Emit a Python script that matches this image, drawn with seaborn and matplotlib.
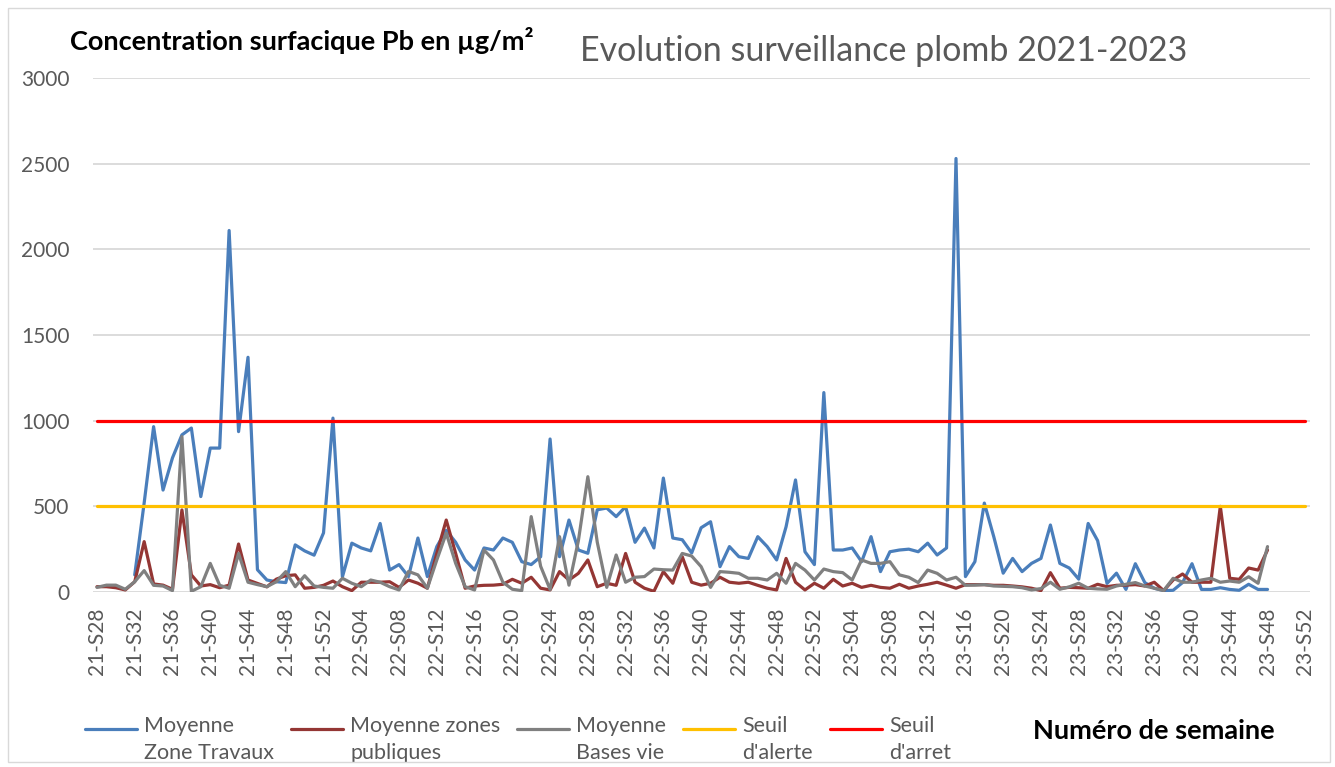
import numpy as np
import pandas as pd
import matplotlib
matplotlib.use("Agg")
import matplotlib.pyplot as plt
from matplotlib.patches import Rectangle
import seaborn as sns

# semaines 2021-S28 .. 2023-S52
weeks = ([f"21-S{w:02d}" for w in range(28, 53)]
         + [f"22-S{w:02d}" for w in range(1, 53)]
         + [f"23-S{w:02d}" for w in range(1, 53)])

# Moyenne Zone Travaux (starts at 21-S32)
zone_travaux = [np.nan, np.nan, np.nan, np.nan,
                100, 520, 965, 595, 783, 917, 957, 557, 840, 840, 2110, 936, 1370, 130, 70, 60,
                55, 275, 240, 215, 345, 1015, 88, 285, 257, 240, 400, 128, 160, 90, 315, 90,
                265, 360, 290, 187, 128, 257, 245, 315, 290, 177, 160, 206, 893, 206, 420, 245,
                226, 480, 490, 440, 498, 290, 373, 257, 665, 315, 305, 228, 375, 410, 148, 265,
                206, 196, 323, 265, 187, 381, 654, 235, 160, 1164, 245, 245, 257, 177, 323, 119,
                235, 245, 250, 235, 285, 216, 257, 2530, 90, 177, 519, 323, 110, 196, 119, 167,
                196, 391, 167, 140, 75, 400, 300, 50, 110, 15, 165, 55, 22, 8, 10, 55,
                165, 15, 15, 25, 15, 10, 45, 15, 15]

zones_publiques = [31, 31, 25, 12, 60, 294, 47, 40, 16, 479, 100, 35, 43, 25, 40, 280,
                   70, 50, 30, 75, 95, 100, 22, 27, 39, 64, 31, 8, 57, 57, 57, 60,
                   27, 70, 51, 22, 225, 420, 225, 22, 35, 39, 40, 45, 74, 51, 86, 22,
                   12, 119, 70, 109, 187, 31, 51, 39, 225, 57, 22, 4, 119, 51, 206, 57,
                   40, 51, 86, 57, 51, 57, 39, 22, 12, 196, 57, 12, 51, 22, 74, 35,
                   51, 27, 39, 27, 22, 45, 22, 35, 45, 57, 40, 22, 43, 43, 43, 39,
                   39, 35, 30, 22, 8, 113, 22, 27, 25, 22, 45, 31, 39, 40, 43, 35,
                   57, 8, 70, 105, 57, 57, 57, 500, 80, 74, 140, 128, 245]

bases_vie = [27, 40, 40, 16, 60, 125, 39, 35, 8, 907, 4, 31, 167, 39, 22, 225,
             57, 43, 31, 60, 119, 31, 95, 35, 27, 22, 80, 51, 31, 70, 57, 31,
             12, 120, 100, 22, 187, 343, 167, 31, 12, 245, 187, 57, 16, 8, 440, 150,
             15, 323, 40, 300, 673, 290, 27, 216, 57, 86, 90, 134, 130, 128, 225, 210,
             148, 27, 119, 115, 109, 80, 80, 70, 109, 51, 167, 128, 70, 134, 119, 113,
             70, 187, 167, 167, 177, 100, 86, 55, 128, 109, 70, 86, 39, 40, 43, 35,
             33, 31, 25, 12, 20, 57, 16, 30, 51, 22, 18, 16, 35, 45, 55, 35,
             22, 8, 80, 57, 57, 70, 80, 57, 64, 57, 89, 51, 265]

seuil_alerte = [500] * len(weeks)
seuil_arret = [1000] * len(weeks)

series = {
    "Moyenne\nZone Travaux": zone_travaux,
    "Moyenne zones\npubliques": zones_publiques,
    "Moyenne\nBases vie": bases_vie,
    "Seuil\nd'alerte": seuil_alerte,
    "Seuil\nd'arret": seuil_arret,
}
colors = ["#4a7ebb", "#943634", "#808080", "#ffc000", "#ff0000"]

rows = []
for name, vals in series.items():
    for i, v in enumerate(vals):
        if not np.isnan(v):
            rows.append((i, v, name))
df = pd.DataFrame(rows, columns=["idx", "val", "serie"])

sns.set_style("white")
plt.rcParams["font.family"] = ["Lato", "DejaVu Sans"]

W, H = 1335, 767
fig = plt.figure(figsize=(W / 100, H / 100), dpi=100)
ax = fig.add_axes([93 / W, 1 - 592 / H, (1310 - 93) / W, (592 - 78) / H])

sns.lineplot(data=df, x="idx", y="val", hue="serie", hue_order=list(series),
             palette=dict(zip(series, colors)), linewidth=2.3, ax=ax, sort=False)
for ln in ax.get_lines():
    ln.set_solid_joinstyle("round")

ax.set_xlim(-0.42, 128.5)
ax.set_ylim(0, 3000)
ax.set_yticks(range(0, 3001, 500))
ax.set_xticks(range(0, len(weeks), 4))
ax.set_xticklabels(weeks[::4], rotation=90)
ax.yaxis.grid(True, color="#d9d9d9", lw=1.3)
ax.xaxis.grid(False)
for s in ax.spines.values():
    s.set_visible(False)
ax.tick_params(axis="both", length=0, labelsize=15, labelcolor="#595959")
ax.tick_params(axis="y", pad=17)
ax.tick_params(axis="x", pad=11)
ax.set_xlabel("")
ax.set_ylabel("")

# handleheight pushes the legend line up to the first text line, as in Excel
sns.move_legend(ax, loc="lower left", bbox_to_anchor=(85 / W, 1 - 773 / H),
                bbox_transform=fig.transFigure, ncol=5, frameon=False, title=None,
                fontsize=15.5, handlelength=2.4, handletextpad=0.35, columnspacing=0.78,
                handleheight=4.1, borderaxespad=0, borderpad=0)
for t in ax.get_legend().get_texts():
    t.set_color("#595959")
    t.set_multialignment("left")
    t.set_linespacing(1.45)
for h in ax.get_legend().legend_handles:
    h.set_linewidth(2.3)

fig.text(70 / W, 1 - 40 / H, "Concentration surfacique Pb en µg/m²", fontsize=19.5,
         fontweight="bold", color="black", va="center", ha="left")
fig.text(884 / W, 1 - 51 / H, "Evolution surveillance plomb 2021-2023", fontsize=24.5,
         color="#595959", va="center", ha="center")
fig.text(1033 / W, 1 - 731 / H, "Numéro de semaine", fontsize=19.5,
         fontweight="bold", color="black", va="center", ha="left")

fig.patches.append(Rectangle((8 / W, 5 / H), (W - 13) / W, (H - 13) / H,
                             transform=fig.transFigure, fill=False,
                             edgecolor="#d9d9d9", lw=1))

fig.savefig("out.png", dpi=100)
